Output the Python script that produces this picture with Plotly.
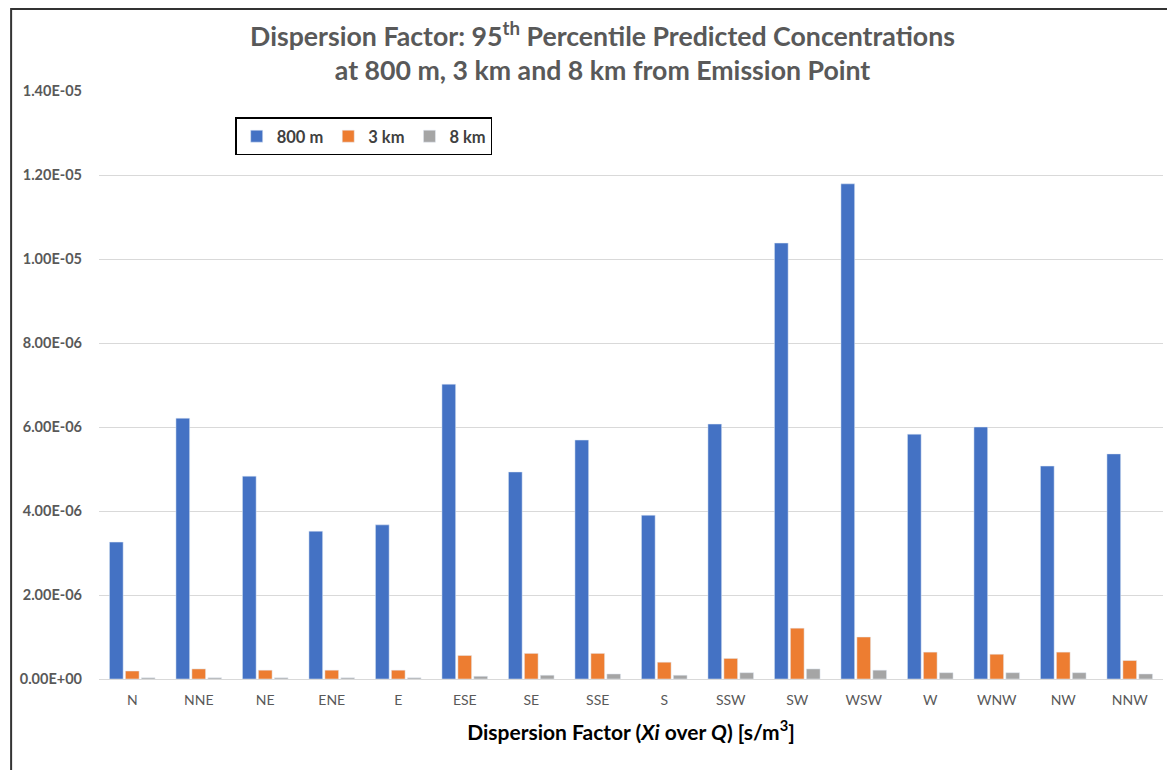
import plotly.graph_objects as go

directions = ["N", "NNE", "NE", "ENE", "E", "ESE", "SE", "SSE",
              "S", "SSW", "SW", "WSW", "W", "WNW", "NW", "NNW"]
d800m = [3.26e-6, 6.21e-6, 4.83e-6, 3.52e-6, 3.67e-6, 7.02e-6, 4.93e-6, 5.69e-6,
         3.90e-6, 6.07e-6, 10.38e-6, 11.79e-6, 5.83e-6, 6.00e-6, 5.07e-6, 5.36e-6]
d3km = [0.19e-6, 0.24e-6, 0.21e-6, 0.21e-6, 0.21e-6, 0.56e-6, 0.61e-6, 0.61e-6,
        0.40e-6, 0.49e-6, 1.21e-6, 1.00e-6, 0.64e-6, 0.59e-6, 0.64e-6, 0.44e-6]
d8km = [0.03e-6, 0.03e-6, 0.03e-6, 0.03e-6, 0.03e-6, 0.065e-6, 0.09e-6, 0.12e-6,
        0.09e-6, 0.15e-6, 0.24e-6, 0.21e-6, 0.15e-6, 0.15e-6, 0.15e-6, 0.12e-6]
ytick_vals = [0, 2e-6, 4e-6, 6e-6, 8e-6, 1.0e-5, 1.2e-5, 1.4e-5]
ytick_text = ["0.00E+00", "2.00E-06", "4.00E-06", "6.00E-06", "8.00E-06",
              "1.00E-05", "1.20E-05", "1.40E-05"]

fig = go.Figure()
fig.add_trace(go.Bar(x=directions, y=d800m, name="800 m", marker_color="#4472C4"))
fig.add_trace(go.Bar(x=directions, y=d3km, name="3 km", marker_color="#ED7D31"))
fig.add_trace(go.Bar(x=directions, y=d8km, name="8 km", marker_color="#A5A5A5"))

fig.update_layout(
    width=1175, height=770,
    margin=dict(l=89, r=20, t=83, b=99),
    paper_bgcolor="white", plot_bgcolor="white",
    barmode="group", bargap=0.28, bargroupgap=0.14,
    font=dict(family="Lato, Open Sans, sans-serif", color="#595959"),
    title=dict(
        text="Dispersion Factor: 95<sup>th</sup> Percentile Predicted Concentrations<br>at 800 m, 3 km and 8 km from Emission Point",
        x=0.506, xanchor="center", y=0.951, yanchor="middle",
        font=dict(family="Lato, sans-serif", size=26.7, color="#595959", weight="bold"),
    ),
    legend=dict(
        orientation="h", x=0.128, y=0.955, xanchor="left", yanchor="top",
        bordercolor="#000000", borderwidth=1.5, bgcolor="white",
        font=dict(size=16.5, color="#404040", family="Lato, sans-serif", weight="bold"),
        itemwidth=30, traceorder="normal",
    ),
    xaxis=dict(
        showgrid=False, showline=True, linecolor="#d9d9d9", linewidth=1,
        ticks="", tickfont=dict(size=14, color="#595959", family="Lato, sans-serif"),
        ticklabelstandoff=8,
        title=dict(text="<b>Dispersion Factor (<i>Xi</i> over <i>Q</i>) [s/m<sup>3</sup>]</b>",
                   font=dict(size=21, color="#000000", family="Lato, sans-serif", weight="bold"),
                   standoff=18),
    ),
    yaxis=dict(
        range=[0, 1.4e-5], tickvals=ytick_vals, ticktext=ytick_text,
        showgrid=True, gridcolor="#d9d9d9", gridwidth=1,
        zeroline=False, showline=False,
        tickfont=dict(size=14.5, color="#595959", family="Lato, sans-serif", weight="bold"),
        ticklabelstandoff=16,
    ),
    shapes=[dict(type="rect", xref="paper", yref="paper",
                 x0=-0.0826, x1=1.05, y0=-0.25, y1=1.1395,
                 line=dict(color="#333333", width=2), fillcolor="rgba(0,0,0,0)",
                 layer="below")],
)

fig.write_html("out.html")
